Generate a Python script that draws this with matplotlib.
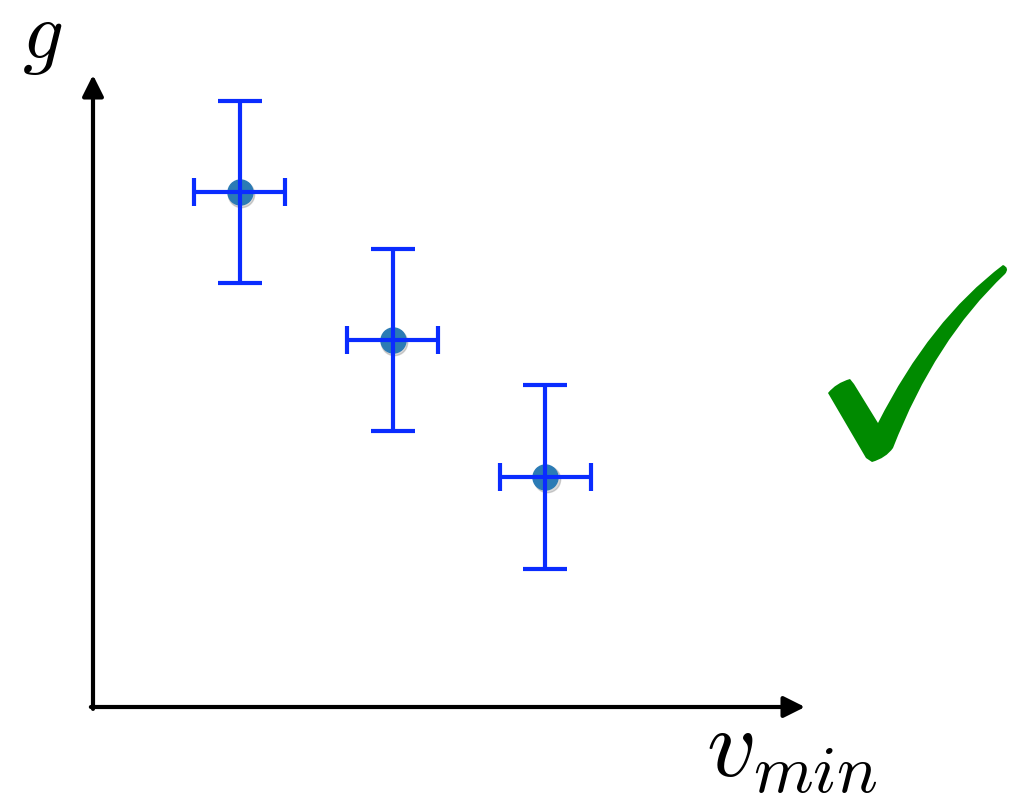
import matplotlib
matplotlib.use('Agg')
import matplotlib.pyplot as plt
from matplotlib.path import Path
from matplotlib.patches import PathPatch

plt.rcParams['mathtext.fontset'] = 'cm'

# measured points (arbitrary units on both axes)
v_min = [2.06, 4.21, 6.35]
g_val = [8.15, 5.81, 3.64]
v_err = [0.64, 0.64, 0.64]
g_err = [1.44, 1.44, 1.45]

W, H = 1025, 797
fig = plt.figure(figsize=(W / 100, H / 100), dpi=100)

# axes whose corner sits on the arrow origin
x0, y0, x1, y1 = 93, 707, 805, 75
ax = fig.add_axes([x0 / W, (H - y0) / H, (x1 - x0) / W, (y0 - y1) / H])
ax.set_xlim(0, 10)
ax.set_ylim(0, 10)
ax.axis('off')

blue = '#0a2cff'
# soft drop shadow under the markers, then the markers
ax.plot(v_min, g_val, 'o', ms=19, color='black', alpha=0.15, zorder=1,
        transform=ax.transData + matplotlib.transforms.ScaledTranslation(1.5 / 100, -2.5 / 100, fig.dpi_scale_trans))
ax.plot(v_min, g_val, 'o', ms=18, color='#2b7bb5', zorder=2)
ax.errorbar(v_min, g_val, yerr=g_err, fmt='none', ecolor=blue, elinewidth=3,
            capsize=16, capthick=3, zorder=3)
ax.errorbar(v_min, g_val, xerr=v_err, fmt='none', ecolor=blue, elinewidth=3,
            capsize=10, capthick=3, zorder=3)

# axis arrows
arrow = dict(arrowstyle='-|>', lw=3, color='black', mutation_scale=32,
             shrinkA=0, shrinkB=0)
ax.annotate('', xy=(0, 1), xytext=(0, -0.003), xycoords='axes fraction', arrowprops=arrow)
ax.annotate('', xy=(1, 0), xytext=(-0.003, 0), xycoords='axes fraction', arrowprops=arrow)

fig.text(42 / W, 1 - 58 / H, '$g$', fontsize=58, ha='center', va='baseline')
fig.text(792 / W, 1 - 776 / H, '$v_{min}$', fontsize=70, ha='center', va='baseline')

# green check mark, drawn in pixel space on an overlay axes
over = fig.add_axes([0, 0, 1, 1])
over.set_xlim(0, W)
over.set_ylim(H, 0)
over.axis('off')
verts = [(828, 393), (836, 383), (850, 379), (854, 384),
         (878, 423),
         (930, 320), (1003, 265),
         (1010, 268), (1005, 274),
         (935, 340), (893, 448),
         (886, 458), (872, 462),
         (866, 458), (828, 393)]
codes = [Path.MOVETO, Path.CURVE3, Path.CURVE3, Path.LINETO,
         Path.LINETO,
         Path.CURVE3, Path.CURVE3,
         Path.CURVE3, Path.CURVE3,
         Path.CURVE3, Path.CURVE3,
         Path.CURVE3, Path.CURVE3,
         Path.LINETO, Path.CLOSEPOLY]
over.add_patch(PathPatch(Path(verts, codes), facecolor='#008a00', edgecolor='none'))

fig.savefig('out.png', dpi=100)
